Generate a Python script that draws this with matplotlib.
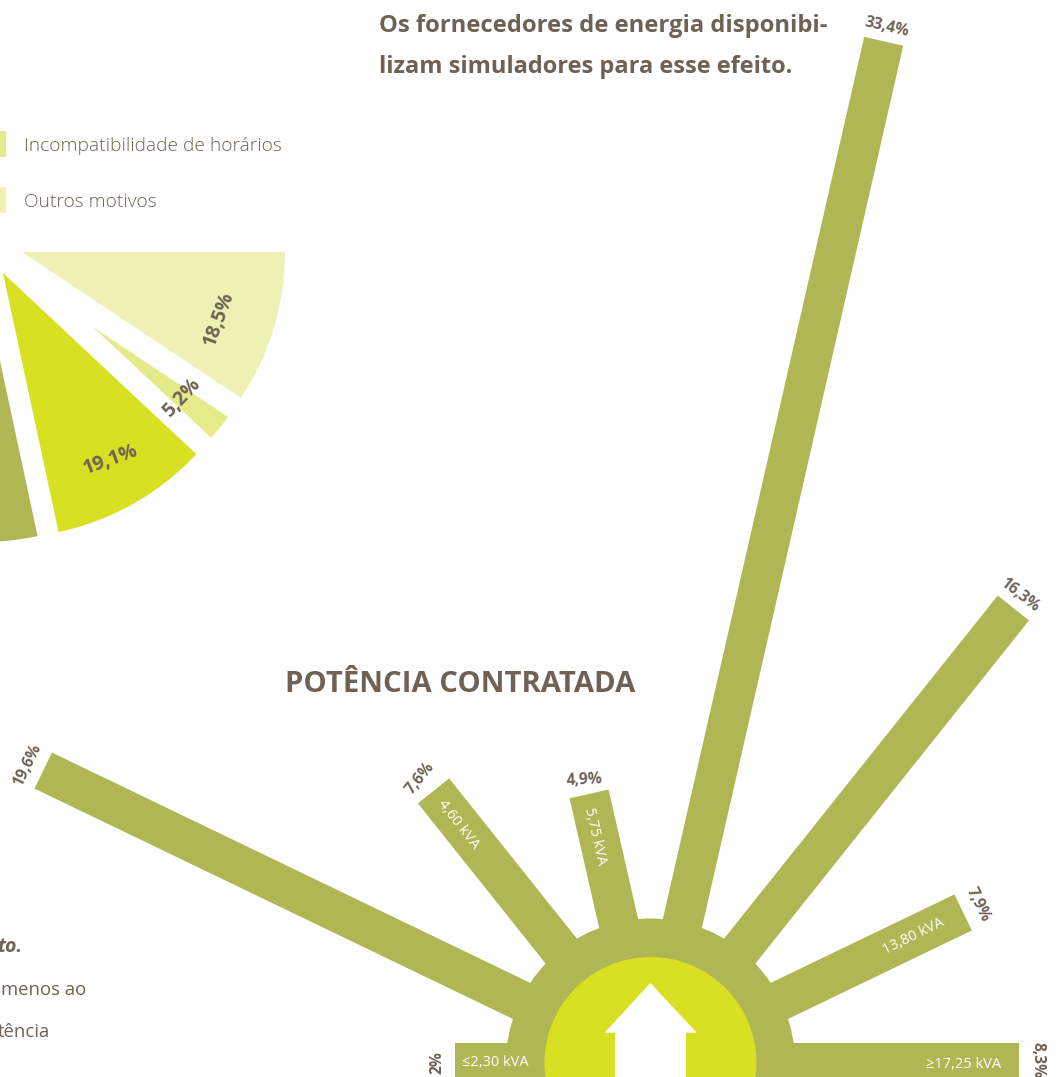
import numpy as np
import matplotlib
matplotlib.use("Agg")
import matplotlib.pyplot as plt
from matplotlib.patches import Wedge, Rectangle, Circle, Polygon

# ---- data ----
power_labels = ["≤2,30 kVA", "", "4,60 kVA", "5,75 kVA", "", "", "13,80 kVA", "≥17,25 kVA"]
power_share = ["2%", "19,6%", "7,6%", "4,9%", "33,4%", "16,3%", "7,9%", "8,3%"]
bar_lengths = [196, 674, 348, 276, 1048, 582, 347, 368]

pie_values = [18.5, 5.2, 19.1, 57.2]
pie_labels = ["18,5%", "5,2%", "19,1%", ""]
legend_labels = ["Incompatibilidade de horários", "Outros motivos"]

OLIVE, YELLOW, LIME, PALE = "#B0B653", "#D7E021", "#E5EA8B", "#EEF1B3"
TXT = "#6F6254"
FONT = "Open Sans"

W, H = 1057, 1077
fig = plt.figure(figsize=(W / 100, H / 100), dpi=100)
ax = fig.add_axes([0, 0, 1, 1])
ax.set_xlim(0, W)
ax.set_ylim(H, 0)
ax.axis("off")

# ---- half pie (exploded) ----
apex = [(22, 252), (93, 327), (3, 273), (-18, 277)]
radii = [263, 162, 265, 265]
cols = [PALE, LIME, YELLOW, OLIVE]
start = 0.0
for v, (x, y), r, c in zip(pie_values, apex, radii, cols):
    span = v * 1.82
    ax.add_patch(Wedge((x, y), r, start, start + span, fc=c, ec="none"))
    start += span

pie_txt = [(219, 319, 70), (182, 398, 47), (111, 460, 20)]
for lab, (x, y, rot) in zip(pie_labels, pie_txt):
    ax.text(x, y, lab, color=TXT, fontsize=14, fontweight="bold", family=FONT,
            rotation=rot, ha="center", va="center", rotation_mode="anchor")

# ---- legend ----
for lab, yc, c in zip(legend_labels, [144, 200], [LIME, PALE]):
    ax.add_patch(Rectangle((0, yc - 13), 6, 26, fc=c, ec="none"))
    ax.text(24, yc + 2, lab, color=TXT, fontsize=13.8, fontweight="light", family=FONT,
            ha="left", va="center")

# ---- radial bars ----
cx, cy = 650.5, 1063
n = len(bar_lengths)
angles = np.deg2rad(180 - np.arange(n) * 180 / (n - 1))
for a, L in zip(angles, bar_lengths):
    ax.plot([cx, cx + L * np.cos(a)], [cy, cy - L * np.sin(a)], color=OLIVE,
            lw=40 * 0.72, solid_capstyle="butt", zorder=2)
ax.add_patch(Wedge((cx, cy), 144.5, 180, 360, fc=OLIVE, ec="none", zorder=2))
ax.add_patch(Circle((cx, cy), 106, fc=YELLOW, ec="none", zorder=3))
ax.add_patch(Polygon([(650.3, 983), (604.7, 1032.7), (615, 1032.7), (615, 1080),
                      (686, 1080), (686, 1032.7), (696.7, 1032.7)],
                     closed=True, fc="white", ec="none", zorder=4))

share_pos = [(437, 1063, 90), (28, 765, 64), (420, 778, 51), (585, 780, 3),
             (887, 27, -13), (1019, 595, -38), (978, 905, -64), (1037, 1060, -90)]
for lab, (x, y, rot) in zip(power_share, share_pos):
    ax.text(x, y, lab, color=TXT, fontsize=11.2, fontweight="bold", family=FONT,
            rotation=rot, ha="center", va="center", rotation_mode="anchor", zorder=5)

kva_pos = [(495, 1063, 0), None, (458, 825, -52), (595, 836, -77), None, None,
           (914, 936, 26), (964, 1065, 0)]
for lab, p in zip(power_labels, kva_pos):
    if p:
        ax.text(p[0], p[1], lab, color="white", fontsize=10.5, fontweight="normal", family=FONT,
                rotation=p[2], ha="center", va="center", rotation_mode="anchor", zorder=5)

# ---- headings and text ----
ax.text(379, 26, "Os fornecedores de energia disponibi-", color=TXT, fontsize=17.1,
        fontweight="bold", family=FONT, ha="left", va="center")
ax.text(379, 67, "lizam simuladores para esse efeito.", color=TXT, fontsize=17,
        fontweight="bold", family=FONT, ha="left", va="center")
ax.text(285, 684, "POTÊNCIA CONTRATADA", color=TXT, fontsize=21.1,
        fontweight="bold", family=FONT, ha="left", va="center")
ax.text(22, 947, "to.", color=TXT, fontsize=14, fontweight="bold", style="italic",
        family=FONT, ha="right", va="center")
ax.text(86, 990, "menos ao", color=TXT, fontsize=13.3, family=FONT, ha="right", va="center")
ax.text(50, 1032, "tência", color=TXT, fontsize=13.3, family=FONT, ha="right", va="center")

fig.savefig("out.png", dpi=100, facecolor="white")
